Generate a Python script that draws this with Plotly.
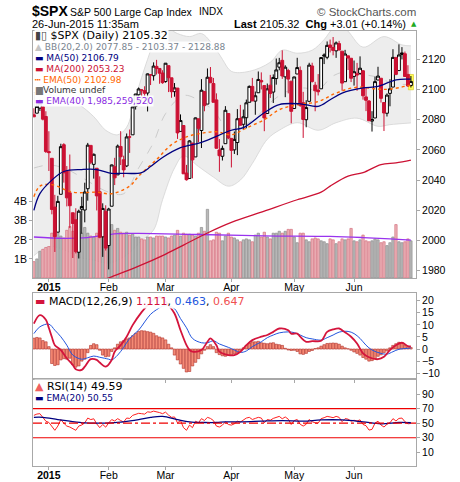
import pandas as pd
import plotly.graph_objects as go

# trading days shown on the chart (24-Dec-2014 .. 26-Jun-2015, intraday last bar)
holidays = ["2014-12-25", "2015-01-01", "2015-01-19", "2015-02-16", "2015-04-03", "2015-05-25"]
days = [d for d in pd.bdate_range("2014-12-24", "2015-06-26").strftime("%Y-%m-%d") if d not in holidays]

month_starts = ["2015-01-02", "2015-02-02", "2015-03-02", "2015-04-01", "2015-05-01", "2015-06-01"]
month_labels = ["<b>2015</b>", "Feb", "Mar", "Apr", "May", "Jun"]

prev_close = 2082.17
opens = [2083.25, 2084.30, 2087.63, 2088.49, 2082.11, 2058.90, 2054.44, 2022.15, 2005.55, 2030.61,
         2063.45, 2046.13, 2031.58, 2018.40, 2013.75, 1992.25, 2020.76, 2020.19, 2034.30, 2062.98,
         2050.42, 2047.86, 2032.34, 2002.45, 2019.35, 1996.67, 2022.71, 2048.86, 2043.45, 2062.28,
         2053.47, 2049.38, 2068.55, 2069.98, 2088.78, 2096.47, 2099.16, 2099.25, 2097.65, 2109.83,
         2109.10, 2115.30, 2113.91, 2110.88, 2105.23, 2115.76, 2107.72, 2098.54, 2100.91, 2072.25,
         2076.14, 2044.69, 2041.10, 2064.56, 2055.35, 2080.59, 2072.84, 2098.69, 2090.32, 2107.99,
         2103.94, 2093.10, 2059.94, 2055.78, 2064.11, 2084.05, 2067.63, 2060.03, 2064.87, 2080.79,
         2076.94, 2081.29, 2091.51, 2102.03, 2092.28, 2097.82, 2105.96, 2102.58, 2084.11, 2102.82,
         2098.27, 2107.21, 2114.76, 2119.29, 2108.35, 2112.49, 2105.52, 2087.38, 2110.23, 2112.63,
         2091.26, 2079.96, 2092.13, 2115.56, 2102.87, 2099.62, 2100.43, 2122.07, 2121.30, 2129.45,
         2127.79, 2125.55, 2130.36, 2125.34, 2105.13, 2122.27, 2120.66, 2108.64, 2110.41, 2110.64,
         2112.35, 2095.09, 2092.34, 2079.07, 2081.12, 2106.24, 2107.43, 2091.34, 2084.26, 2097.40,
         2101.58, 2121.06, 2112.50, 2123.16, 2123.65, 2109.96, 2102.62]
highs = [2087.56, 2092.70, 2093.55, 2088.49, 2085.58, 2072.36, 2054.44, 2030.25, 2029.61, 2064.08,
         2064.43, 2049.30, 2056.93, 2018.40, 2021.35, 2020.46, 2028.94, 2038.29, 2064.62, 2062.98,
         2057.62, 2047.86, 2042.49, 2024.64, 2023.32, 2021.66, 2050.30, 2054.74, 2063.55, 2072.40,
         2056.16, 2070.86, 2073.48, 2088.53, 2097.03, 2101.30, 2100.23, 2102.13, 2110.61, 2110.05,
         2117.94, 2119.59, 2113.91, 2112.74, 2117.52, 2115.76, 2107.72, 2104.25, 2100.91, 2083.49,
         2076.14, 2050.08, 2066.41, 2064.56, 2081.41, 2080.59, 2106.85, 2098.69, 2113.92, 2114.86,
         2107.63, 2097.43, 2067.15, 2062.83, 2088.97, 2084.05, 2067.63, 2072.17, 2086.99, 2089.81,
         2086.69, 2093.31, 2102.61, 2107.65, 2098.62, 2111.91, 2111.30, 2102.58, 2103.94, 2109.64,
         2109.98, 2120.49, 2120.92, 2125.92, 2116.04, 2113.65, 2105.52, 2108.41, 2120.95, 2115.24,
         2098.42, 2092.90, 2117.66, 2117.69, 2105.06, 2110.19, 2121.45, 2123.89, 2131.78, 2133.02,
         2134.72, 2131.78, 2132.15, 2125.34, 2126.22, 2122.27, 2120.66, 2119.15, 2117.59, 2121.92,
         2112.89, 2100.99, 2093.01, 2085.62, 2108.50, 2115.02, 2107.43, 2091.34, 2097.40, 2106.79,
         2126.65, 2121.64, 2129.87, 2128.03, 2125.10, 2116.04, 2108.92]
lows = [2081.86, 2084.30, 2085.75, 2079.53, 2057.94, 2046.04, 2017.34, 1992.44, 2005.55, 2030.61,
        2038.33, 2022.58, 2008.25, 1988.44, 1991.47, 1988.12, 2004.49, 2012.04, 2026.38, 2050.54,
        2040.97, 2019.91, 2001.49, 1989.18, 1993.38, 1980.90, 2022.71, 2036.72, 2043.45, 2049.97,
        2041.88, 2048.62, 2057.99, 2069.98, 2086.70, 2089.80, 2092.15, 2090.79, 2085.44, 2102.92,
        2105.87, 2109.89, 2103.76, 2103.75, 2104.50, 2098.26, 2094.49, 2095.22, 2067.27, 2072.21,
        2044.16, 2039.69, 2041.10, 2041.17, 2055.35, 2065.08, 2061.23, 2085.56, 2090.32, 2104.42,
        2091.50, 2061.05, 2045.50, 2052.96, 2064.11, 2067.04, 2048.38, 2057.32, 2056.52, 2076.10,
        2073.30, 2074.29, 2091.51, 2092.33, 2083.24, 2097.82, 2100.02, 2072.37, 2084.11, 2094.38,
        2091.05, 2103.19, 2112.69, 2107.04, 2094.89, 2097.41, 2077.59, 2087.38, 2110.23, 2088.46,
        2067.93, 2074.99, 2092.13, 2104.58, 2085.57, 2096.04, 2100.43, 2116.81, 2120.01, 2124.50,
        2122.59, 2120.92, 2126.06, 2099.18, 2105.13, 2112.86, 2104.89, 2102.54, 2099.14, 2109.61,
        2093.23, 2085.67, 2079.11, 2072.14, 2081.12, 2106.24, 2091.33, 2072.49, 2082.10, 2088.86,
        2101.58, 2109.45, 2112.50, 2119.89, 2108.58, 2101.78, 2101.30]
closes = [2081.88, 2088.77, 2090.57, 2080.35, 2058.90, 2058.20, 2020.58, 2002.61, 2025.90, 2062.14,
          2044.81, 2028.26, 2023.03, 2011.27, 1992.67, 2019.42, 2022.55, 2032.12, 2063.15, 2051.82,
          2057.09, 2029.55, 2002.16, 2021.25, 1994.99, 2020.85, 2050.03, 2041.51, 2062.52, 2055.47,
          2046.74, 2068.59, 2068.53, 2088.48, 2096.99, 2100.34, 2099.68, 2097.45, 2110.30, 2109.66,
          2115.48, 2113.86, 2110.74, 2104.50, 2117.39, 2107.78, 2098.53, 2101.04, 2071.26, 2079.43,
          2044.16, 2040.24, 2065.95, 2053.40, 2081.19, 2074.28, 2099.50, 2089.27, 2108.10, 2104.42,
          2091.50, 2061.05, 2056.15, 2061.02, 2086.24, 2067.89, 2059.69, 2066.96, 2080.62, 2076.33,
          2081.90, 2091.18, 2102.06, 2092.43, 2095.84, 2106.63, 2104.99, 2081.18, 2100.40, 2097.29,
          2107.96, 2112.93, 2117.69, 2108.92, 2114.76, 2106.85, 2085.51, 2108.29, 2114.49, 2089.46,
          2080.15, 2088.00, 2116.10, 2105.33, 2099.12, 2098.48, 2121.10, 2122.73, 2129.20, 2127.83,
          2125.85, 2130.82, 2126.06, 2104.20, 2123.48, 2120.79, 2107.39, 2111.73, 2109.60, 2114.07,
          2095.84, 2092.83, 2079.28, 2080.15, 2105.20, 2108.86, 2094.11, 2084.43, 2096.29, 2100.44,
          2121.24, 2109.99, 2122.85, 2124.20, 2108.58, 2102.31, 2105.32]

# volume in billions of shares
volume_b = [0.86, 1.0, 1.4, 1.5, 1.6, 1.65, 2.35, 2.2, 2.4, 2.2,
            2.1, 2.5, 2.7, 2.45, 2.35, 2.45, 2.35, 2.65, 2.35, 2.2,
            2.15, 2.35, 2.45, 2.35, 2.8, 2.45, 2.8, 2.5, 2.6, 2.4,
            2.35, 2.4, 2.25, 2.3, 2.15, 2.15, 2.05, 2.0, 2.15, 2.15,
            2.1, 2.2, 2.2, 2.2, 2.15, 2.1, 2.2, 2.25, 2.5, 2.2,
            2.35, 2.3, 2.3, 2.25, 2.2, 2.35, 2.65, 2.45, 3.6, 1.95,
            2.0, 2.4, 2.35, 1.95, 2.2, 2.35, 2.15, 2.1, 2.0, 1.9,
            2.0, 2.05, 2.0, 1.9, 2.25, 2.35, 2.15, 2.4, 2.15, 2.05,
            2.35, 2.35, 2.45, 2.35, 2.45, 2.55, 2.55, 2.15, 1.85, 2.35,
            2.35, 2.0, 1.9, 2.05, 2.1, 2.05, 1.95, 1.9, 1.8, 2.05,
            2.0, 1.8, 1.9, 2.05, 2.0, 2.05, 2.6, 1.95, 1.9, 2.0,
            2.25, 1.95, 1.9, 1.95, 2.05, 2.0, 1.85, 1.9, 1.7, 1.85,
            2.15, 2.8, 1.9, 1.85, 1.9, 2.05, 1.95]

# overlays (trading-day number, value)
bb_upper_at = [0, 5, 10, 15, 20, 24, 28, 31, 34, 38, 41, 44, 48, 52, 56, 60, 63, 66, 72, 79, 83, 88, 93, 97, 100, 104, 110, 117, 123, 126]
bb_upper = [2098, 2097, 2094, 2090, 2082, 2073, 2070, 2075, 2095, 2120, 2135, 2141, 2137, 2135, 2137, 2129, 2120, 2112, 2112, 2118, 2126, 2124, 2126, 2133, 2140, 2140, 2128, 2135, 2129.5, 2128.88]
bb_lower_at = [0, 5, 10, 15, 20, 25, 29, 32, 36, 40, 43, 47, 50, 55, 60, 65, 69, 73, 78, 82, 88, 95, 101, 108, 115, 119, 126]
bb_lower = [1990, 1996, 1994, 1989, 1987, 1985, 1988, 1992, 2000, 2007, 2027, 2048, 2056, 2049, 2042, 2036, 2040, 2051, 2067, 2073, 2078, 2073, 2078, 2081, 2075.6, 2076.7, 2077.85]
bb_mid_at = [0, 5, 10, 15, 20, 25, 30, 35, 40, 44, 50, 55, 60, 65, 70, 75, 80, 85, 90, 95, 100, 105, 110, 115, 120, 126]
bb_mid = [2048, 2050, 2048, 2043, 2037, 2032, 2031, 2048, 2065, 2084, 2096, 2093, 2086, 2074, 2076, 2083, 2093, 2099, 2101, 2100, 2109, 2112, 2110, 2108, 2104, 2103.37]

ma50_at = [0, 2, 6, 10, 16, 21, 26, 29, 36, 39, 43, 49, 56, 66, 70, 77, 82, 89, 95, 99, 103, 110, 115, 121, 126]
ma50 = [2020, 2031, 2040, 2045.7, 2047, 2047, 2044.4, 2044.5, 2045, 2049, 2055, 2061.5, 2065, 2073, 2074.7, 2084.6, 2090, 2090.5, 2088.8, 2093.2, 2097.6, 2101, 2102, 2106.4, 2106.79]
ma200_at = [18, 26, 35, 43, 50, 58, 66, 77, 88, 96, 99, 105, 110, 116, 121, 126]
ma200 = [1970, 1976, 1983, 1990, 1997, 2005, 2012, 2019.5, 2027, 2032, 2036, 2042.6, 2045, 2050.3, 2051.4, 2053.23]
ema50_at = [0, 2, 6, 13, 21, 26, 32, 35, 41, 46, 51, 56, 61, 66, 71, 77, 82, 88, 95, 101, 108, 115, 119, 126]
ema50 = [2029, 2036, 2037, 2032, 2032, 2031, 2036, 2042.6, 2053.6, 2063.5, 2068.6, 2071, 2072, 2070, 2074.5, 2080, 2086.6, 2089.9, 2092, 2097.6, 2101.5, 2100.2, 2100.2, 2102.98]
vol_ema_at = [0, 10, 18, 24, 28, 35, 55, 77, 99, 110, 119, 126]
vol_ema_b = [2.15, 2.08, 2.12, 2.25, 2.33, 2.34, 2.28, 2.21, 2.18, 2.12, 2.05, 1.985259520]

macd_at = [0, 2, 4, 5, 6, 7, 9, 11, 13, 14, 16, 17, 19, 21, 22, 24, 26, 27, 29, 31, 33, 36, 38, 40, 42, 43, 45, 47, 49, 51, 52, 53, 56, 58, 59, 61, 62, 65, 67, 69, 71, 73, 76, 78, 80, 82, 85, 86, 88, 89, 91, 93, 96, 98, 100, 102, 103, 106, 108, 110, 112, 115, 117, 119, 121, 123, 125, 126]
macd = [10.5, 14.0, 12.1, 8.7, 5.0, 1.6, -0.4, -3.8, -6.6, -8.4, -8.6, -7.3, -4.2, -4.5, -5.6, -7.3, -4.5, -1.1, 1.6, 5.1, 9.9, 15.3, 18.1, 20.5, 21.5, 21.0, 18.1, 14.7, 7.8, 1.6, -0.4, -1.1, -0.4, 3.0, 4.4, 1.6, -1.1, -2.5, -2.5, -1.1, 1.6, 3.7, 5.1, 5.8, 7.1, 8.5, 7.8, 6.4, 6.4, 5.1, 3.0, 3.3, 3.4, 7.1, 8.1, 8.5, 7.8, 5.1, 2.3, -1.8, -3.4, -4.2, -3.2, -0.4, 1.6, 2.6, 1.2, 1.111]
signal_at = [0, 2, 5, 7, 9, 11, 13, 16, 18, 20, 22, 25, 26, 28, 30, 32, 35, 37, 39, 41, 43, 45, 47, 49, 51, 53, 56, 58, 60, 62, 65, 67, 69, 71, 73, 76, 78, 80, 82, 85, 87, 89, 91, 93, 96, 98, 100, 102, 105, 107, 109, 111, 113, 116, 118, 120, 122, 125, 126]
signal = [6.4, 9.2, 10.3, 7.8, 5.1, 1.6, -2.5, -4.2, -3.6, -2.9, -3.4, -4.2, -4.5, -2.5, 0.7, 4.4, 7.8, 11.2, 14.4, 16.3, 17.7, 17.9, 16.7, 12.6, 8.8, 4.4, 2.6, 2.6, 3.4, 2.1, 0.7, -0.4, -1.4, -0.8, 1.0, 3.0, 4.7, 5.8, 6.7, 7.1, 6.8, 5.8, 4.7, 4.2, 3.7, 4.7, 5.8, 7.0, 7.3, 6.4, 4.4, 1.6, -0.4, -1.8, -2.1, -1.1, -0.1, 0.3, 0.463]
macd_hist = [4.5, 4.8, 4.6, 3.5, 3.0, 1.0, -6.0, -6.8, -6.5, -4.5,
             -4.0, -4.2, -3.8, -6.5, -7.5, -7.0, -5.0, -4.2, -1.5, 1.5,
             2.2, 1.8, -0.5, -2.5, -3.2, -3.0, -1.0, 0.5, 2.0, 3.0,
             3.5, 4.2, 4.6, 5.5, 6.5, 7.3, 7.6, 7.5, 7.2, 7.0,
             6.5, 5.5, 5.0, 4.6, 3.8, 2.0, 0.5, -2.5, -4.5, -6.2,
             -8.0, -9.5, -9.3, -7.0, -5.5, -4.0, -2.0, -0.5, 1.0, 1.8,
             1.0, -1.5, -2.3, -2.8, -3.0, -2.6, -2.5, -2.0, -1.5, -0.5,
             0.5, 1.5, 2.5, 3.0, 3.0, 3.2, 2.6, 2.4, 2.2, 2.5,
             2.6, 2.0, 1.8, 1.5, 0.3, -0.4, -0.6, -0.5, -1.0, -2.0,
             -2.2, -1.8, -1.0, -0.6, 0.2, 0.5, 1.2, 1.8, 2.3, 2.4,
             2.5, 2.4, 2.0, 1.2, 0.5, 0.1, -0.5, -1.2, -1.8, -2.5,
             -3.5, -4.2, -5.0, -4.8, -4.0, -3.0, -2.4, -1.5, -0.8, 0.5,
             1.5, 2.2, 2.8, 2.6, 1.6, 1.0, 0.647]

rsi = [60.7, 62.5, 63.0, 58.0, 52.7, 51.0, 45.0, 40.2, 46.0, 54.9,
       50.0, 46.0, 44.7, 42.5, 40.2, 46.0, 47.5, 50.4, 57.0, 54.9,
       56.0, 49.0, 43.8, 48.2, 44.5, 50.4, 54.9, 53.0, 56.2, 53.6,
       51.5, 57.0, 56.5, 60.7, 62.5, 63.5, 63.0, 62.4, 65.5, 65.0,
       66.5, 66.0, 64.5, 63.0, 65.1, 61.0, 58.0, 58.5, 50.4, 53.6,
       43.8, 40.2, 47.3, 43.8, 52.7, 50.5, 56.2, 53.6, 58.0, 56.5,
       53.6, 46.0, 44.7, 47.3, 51.8, 48.2, 47.3, 49.1, 52.7, 51.5,
       54.9, 57.0, 58.0, 55.0, 56.5, 58.0, 57.0, 50.4, 55.0, 54.0,
       56.5, 58.0, 59.3, 56.0, 58.5, 55.5, 48.2, 53.6, 55.0, 48.5,
       46.0, 48.5, 55.0, 52.0, 50.4, 50.0, 56.2, 57.5, 59.3, 58.5,
       57.5, 59.3, 58.0, 52.0, 56.2, 55.5, 52.7, 54.0, 53.0, 54.5,
       48.2, 46.5, 40.5, 41.5, 50.0, 52.7, 47.5, 44.7, 48.5, 50.4,
       56.2, 53.0, 56.5, 57.0, 52.0, 49.1, 49.59]
rsi_ema_at = [0, 3, 8, 12, 17, 21, 26, 30, 35, 39, 43, 48, 52, 57, 61, 64, 70, 76, 83, 90, 96, 103, 110, 116, 122, 126]
rsi_ema = [58, 58, 54.9, 52.7, 50.4, 50, 50.4, 51.8, 54.9, 58, 59.3, 54.9, 51.8, 50.9, 50.9, 51.8, 51.8, 52.7, 53.6, 52.7, 54.4, 54.4, 51.8, 49.1, 50.9, 50.55]

RED = "#CC1133"
x = list(range(len(days)))
prev = [prev_close] + closes[:-1]
up = [c >= p for c, p in zip(closes, prev)]
tickvals = [days.index(d) for d in month_starts]


def px(v):  # pixel column -> paper x
    return (v - 33) / 383


def py(v):  # pixel row -> paper y
    return (466 - v) / 435


fig = go.Figure()

# Bollinger band shade (base price axis)
fig.add_trace(go.Scatter(x=bb_lower_at, y=bb_lower, mode="lines",
                         line=dict(color="#D4D4D4", width=0.8, shape="spline")))
fig.add_trace(go.Scatter(x=bb_upper_at, y=bb_upper, mode="lines", fill="tonexty", fillcolor="#EDEDED",
                         line=dict(color="#D4D4D4", width=0.8, shape="spline")))
fig.add_trace(go.Scatter(x=bb_mid_at, y=bb_mid, mode="lines",
                         line=dict(color="#CCCCCC", width=1, dash="dash", shape="spline")))

# volume
fig.add_trace(go.Bar(x=x, y=[v * 1e9 for v in volume_b], width=0.78, yaxis="y2",
                     marker=dict(color=["#B9B9B9" if u else "#EBB3B8" for u in up],
                                 line=dict(color=["#8E8E8E" if u else "#D6707E" for u in up], width=0.7))))
fig.add_trace(go.Scatter(x=vol_ema_at, y=[v * 1e9 for v in vol_ema_b], mode="lines", yaxis="y2",
                         line=dict(color="#9933EE", width=1.3, shape="spline")))

# price overlays
fig.add_trace(go.Scatter(x=ma200_at, y=ma200, mode="lines", yaxis="y3",
                         line=dict(color=RED, width=1.3, shape="spline")))
fig.add_trace(go.Scatter(x=ema50_at, y=ema50, mode="lines", yaxis="y3",
                         line=dict(color="#FF6600", width=1.4, dash="dot", shape="spline")))
fig.add_trace(go.Scatter(x=ma50_at, y=ma50, mode="lines", yaxis="y3",
                         line=dict(color="#000080", width=1.3, shape="spline")))
fig.add_trace(go.Bar(x=[x[-1]], y=[highs[-1] - lows[-1] + 2.5], base=[lows[-1] - 1.5], width=1.7, yaxis="y3",
                     marker=dict(color="#FFFF55", line=dict(color="#E0D040", width=0.8))))

for grp, col in ((True, "#000000"), (False, RED)):
    def pick(arr):
        return [v if u == grp else None for v, u in zip(arr, up)]
    fig.add_trace(go.Candlestick(x=x, open=pick(opens), high=pick(highs), low=pick(lows), close=pick(closes),
                                 yaxis="y3", whiskerwidth=0,
                                 increasing=dict(line=dict(color=col, width=1), fillcolor="white"),
                                 decreasing=dict(line=dict(color=col, width=1), fillcolor=col)))

# MACD panel
fig.add_trace(go.Bar(x=x, y=macd_hist, width=0.85, xaxis="x2", yaxis="y4",
                     marker=dict(color="#F58A75", line=dict(color="#B0302A", width=0.6))))
fig.add_trace(go.Scatter(x=signal_at, y=signal, mode="lines", xaxis="x2", yaxis="y4",
                         line=dict(color="#2255DD", width=1, shape="spline")))
fig.add_trace(go.Scatter(x=macd_at, y=macd, mode="lines", xaxis="x2", yaxis="y4",
                         line=dict(color="#D4143C", width=1.8, shape="spline")))

# RSI panel
fig.add_trace(go.Scatter(x=x, y=rsi, mode="lines", xaxis="x3", yaxis="y5",
                         line=dict(color="#FF2020", width=1)))
fig.add_trace(go.Scatter(x=rsi_ema_at, y=rsi_ema, mode="lines", xaxis="x3", yaxis="y5",
                         line=dict(color="#000080", width=1.3, shape="spline")))

for lvl, dash in ((70, "solid"), (30, "solid"), (50, "dashdot")):
    fig.add_shape(type="line", xref="x3 domain", yref="y5", x0=0, x1=1, y0=lvl, y1=lvl,
                  line=dict(color="#EE0000", width=1.2, dash=dash))

BORDER = "#A8A8A8"
tickfont = dict(family="Liberation Sans, Arial", size=10.5, color="#000")
xcommon = dict(range=[-0.3, 127.7], tickvals=tickvals, ticktext=month_labels, ticks="outside", ticklen=3,
               tickcolor=BORDER, showline=True, mirror=True, linecolor=BORDER, showgrid=False,
               zeroline=False, tickfont=tickfont, fixedrange=True, automargin=False, ticklabelstandoff=-4)
ycommon = dict(side="right", ticks="outside", ticklen=3, tickcolor=BORDER, showgrid=False, zeroline=False,
               tickfont=tickfont, fixedrange=True, automargin=False)

fig.update_layout(
    template="none",
    width=460, height=482, margin=dict(l=33, r=44, t=31, b=16, autoexpand=False),
    paper_bgcolor="white", plot_bgcolor="white", showlegend=False, hovermode=False,
    barmode="overlay", boxgap=0.05, boxgroupgap=0,
    xaxis=dict(xcommon, anchor="y", rangeslider=dict(visible=False)),
    yaxis=dict(domain=[py(278), 1], range=[1975.2, 2138.7], visible=False, fixedrange=True, automargin=False),
    yaxis2=dict(overlaying="y", side="left", range=[0, 12.95e9], tickvals=[1e9, 2e9, 3e9, 4e9],
                ticktext=["1B", "2B", "3B", "4B"], ticks="outside", ticklen=3, tickcolor=BORDER,
                showgrid=False, zeroline=False, tickfont=tickfont, fixedrange=True, automargin=False),
    yaxis3=dict(ycommon, overlaying="y", range=[1975.2, 2138.7], tickvals=list(range(1980, 2121, 20)),
                showline=True, mirror=True, linecolor=BORDER),
    xaxis2=dict(xcommon, anchor="y4", showticklabels=False),
    yaxis4=dict(ycommon, domain=[py(379), py(293)], anchor="x2", range=[-12.4, 23.2],
                tickvals=[-10, -5, 0, 5, 10, 15, 20], showline=True, mirror=True, linecolor=BORDER),
    xaxis3=dict(xcommon, anchor="y5"),
    yaxis5=dict(ycommon, domain=[0, py(379)], anchor="x3", range=[-8.8, 110.6],
                tickvals=[10, 30, 50, 70, 90], showline=True, mirror=True, linecolor=BORDER),
)

HDR = "Liberation Sans, Arial"
LEG = "DejaVu Sans"


def note(text, x, y, size, family=LEG, color="#000", anchor="left", bg=None):
    fig.add_annotation(text=text, xref="paper", yref="paper", x=px(x), y=py(y), xanchor=anchor,
                       yanchor="middle", showarrow=False, font=dict(family=family, size=size, color=color),
                       bgcolor=bg, borderpad=0)


# header
note("<b>$SPX</b>", 31, 11, 14, HDR)
note("S&P 500 Large Cap Index", 69, 12, 10.5, HDR)
note("INDX", 198, 12, 10, HDR)
note("© StockCharts.com", 417, 12, 11.5, HDR, "#555", "right")
note("26-Jun-2015 11:35am", 31, 24, 11, HDR)
chg = closes[-1] - closes[-2]
note(f"<b>Last</b> {closes[-1]:.2f}  <b>Chg</b> +{chg:.2f} (+{100 * chg / closes[-2]:.2f}%)",
     407, 24, 11, HDR, "#000", "right")
note("▲", 410, 24, 7, LEG, "#22AA22")

# price legend
WBG = "rgba(255,255,255,0.92)"
note(f"<span style='color:#444'>▮▯</span> $SPX (Daily) {closes[-1]:.2f}", 34, 36, 11, bg=WBG)
note(f"<span style='color:#C4C4C4'>▲</span> BB(20,2.0) {bb_lower[-1]:.2f} - {bb_mid[-1]:.2f} - {bb_upper[-1]:.2f}",
     34, 47, 9, color="#7A8590", bg=WBG)
note(f"▬ MA(50) {ma50[-1]:.2f}", 34, 58, 9, color="#000080", bg=WBG)
note(f"▬ MA(200) {ma200[-1]:.2f}", 34, 69, 9, color=RED, bg=WBG)
note(f"┅ EMA(50) {ema50[-1]:.2f}", 34, 80, 9, color="#FF6600", bg=WBG)
note("<span style='color:#777'>▆</span>Volume undef", 34, 90.5, 9, color="#333", bg=WBG)
note(f"▬ EMA(40) {vol_ema_b[-1] * 1e9:,.0f}", 34, 101, 9, color="#8A2BE2", bg=WBG)

# MACD legend
note(f"<span style='color:#D4143C'>▬</span> MACD(12,26,9) <span style='color:#D4143C'>{macd[-1]:.3f}</span>, "
     f"<span style='color:#2255DD'>{signal[-1]:.3f}</span>, <span style='color:#F05050'>{macd_hist[-1]:.3f}</span>",
     34, 301, 11, bg=WBG)

# RSI legend
note(f"<span style='color:#F06060'>▲</span> RSI(14) {rsi[-1]:.2f}", 34, 386.5, 11, bg=WBG)
note(f"<span style='color:#000080'>▬</span> EMA(20) {rsi_ema[-1]:.2f}", 34, 398, 9, color="#000080", bg=WBG)

fig.write_html("out.html", config={"displayModeBar": False},
               post_script="document.body.style.margin='0px';")
